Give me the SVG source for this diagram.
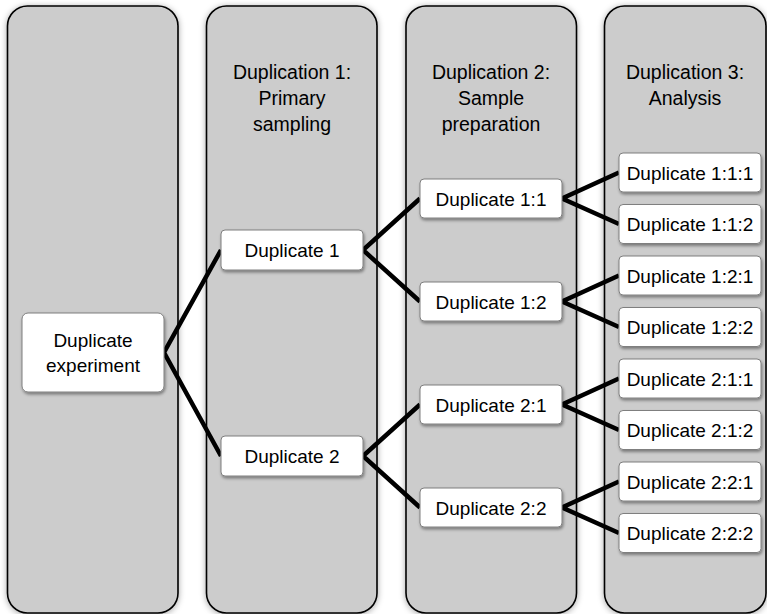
<svg xmlns="http://www.w3.org/2000/svg" width="767" height="614" viewBox="0 0 767 614">
<defs>
<filter id="colShadow" x="-10%" y="-5%" width="120%" height="110%">
<feDropShadow dx="0" dy="1" stdDeviation="3" flood-color="#000" flood-opacity="0.35"/>
</filter>
<filter id="nodeShadow" x="-10%" y="-20%" width="125%" height="150%">
<feDropShadow dx="1" dy="2" stdDeviation="1.5" flood-color="#000" flood-opacity="0.4"/>
</filter>
</defs>
<style>
.col{fill:#cccccc;stroke:#000;stroke-width:1.6;filter:url(#colShadow)}
.node{fill:#fff;stroke:#7f7f7f;stroke-width:1;filter:url(#nodeShadow)}
.hdr,.lbl{font-family:"Liberation Sans",Arial,sans-serif;font-size:19px;fill:#000;text-anchor:middle}
.hdr{font-size:19.5px}
.conn{fill:none;stroke:#000;stroke-width:4.5;stroke-linejoin:miter;stroke-miterlimit:10}
</style>
<rect width="767" height="614" fill="#fff"/>
<g id="lanes">
<g id="lane0"><rect class="col" x="7.5" y="6" width="170.5" height="607" rx="20"/></g>
<g id="lane1"><rect class="col" x="206.5" y="6" width="170.5" height="607" rx="20"/>
<text class="hdr" x="292" y="79">Duplication 1:</text>
<text class="hdr" x="292" y="105">Primary</text>
<text class="hdr" x="292" y="131">sampling</text></g>
<g id="lane2"><rect class="col" x="406" y="6" width="170.5" height="607" rx="20"/>
<text class="hdr" x="491" y="79">Duplication 2:</text>
<text class="hdr" x="491" y="105">Sample</text>
<text class="hdr" x="491" y="131">preparation</text></g>
<g id="lane3"><rect class="col" x="604.5" y="6" width="161.5" height="607" rx="20"/>
<text class="hdr" x="685" y="79">Duplication 3:</text>
<text class="hdr" x="685" y="105">Analysis</text></g>
</g>
<g id="connectors">
<polyline class="conn" points="221,250 164,352.5 221,456"/>
<polyline class="conn" points="420,198.5 363,250 420,301.5"/>
<polyline class="conn" points="420,404.5 363,456 420,507.5"/>
<polyline class="conn" points="619,172.5 562,198.5 619,224"/>
<polyline class="conn" points="619,275.5 562,301.5 619,327"/>
<polyline class="conn" points="619,378.5 562,404.5 619,430"/>
<polyline class="conn" points="619,481.5 562,507.5 619,533"/>
</g>
<g id="n0"><rect class="node" x="22" y="313" width="142" height="79" rx="6"/>
<text class="lbl" x="93" y="347">Duplicate</text><text class="lbl" x="93" y="372">experiment</text></g>
<g id="n1"><rect class="node" x="221" y="230" width="142" height="40" rx="4"/><text class="lbl" x="292" y="257">Duplicate 1</text></g>
<g id="n2"><rect class="node" x="221" y="436" width="142" height="40" rx="4"/><text class="lbl" x="292" y="463">Duplicate 2</text></g>
<g id="n11"><rect class="node" x="420" y="179" width="142" height="39" rx="4"/><text class="lbl" x="491" y="205.5">Duplicate 1:1</text></g>
<g id="n12"><rect class="node" x="420" y="282" width="142" height="39" rx="4"/><text class="lbl" x="491" y="308.5">Duplicate 1:2</text></g>
<g id="n21"><rect class="node" x="420" y="385" width="142" height="39" rx="4"/><text class="lbl" x="491" y="411.5">Duplicate 2:1</text></g>
<g id="n22"><rect class="node" x="420" y="488" width="142" height="39" rx="4"/><text class="lbl" x="491" y="514.5">Duplicate 2:2</text></g>
<g id="n111"><rect class="node" x="619" y="153" width="142" height="39" rx="4"/><text class="lbl" x="690" y="179.5">Duplicate 1:1:1</text></g>
<g id="n112"><rect class="node" x="619" y="204.5" width="142" height="39" rx="4"/><text class="lbl" x="690" y="231">Duplicate 1:1:2</text></g>
<g id="n121"><rect class="node" x="619" y="256" width="142" height="39" rx="4"/><text class="lbl" x="690" y="282.5">Duplicate 1:2:1</text></g>
<g id="n122"><rect class="node" x="619" y="307.5" width="142" height="39" rx="4"/><text class="lbl" x="690" y="334">Duplicate 1:2:2</text></g>
<g id="n211"><rect class="node" x="619" y="359" width="142" height="39" rx="4"/><text class="lbl" x="690" y="385.5">Duplicate 2:1:1</text></g>
<g id="n212"><rect class="node" x="619" y="410.5" width="142" height="39" rx="4"/><text class="lbl" x="690" y="437">Duplicate 2:1:2</text></g>
<g id="n221"><rect class="node" x="619" y="462" width="142" height="39" rx="4"/><text class="lbl" x="690" y="488.5">Duplicate 2:2:1</text></g>
<g id="n222"><rect class="node" x="619" y="513.5" width="142" height="39" rx="4"/><text class="lbl" x="690" y="540">Duplicate 2:2:2</text></g>
</svg>
